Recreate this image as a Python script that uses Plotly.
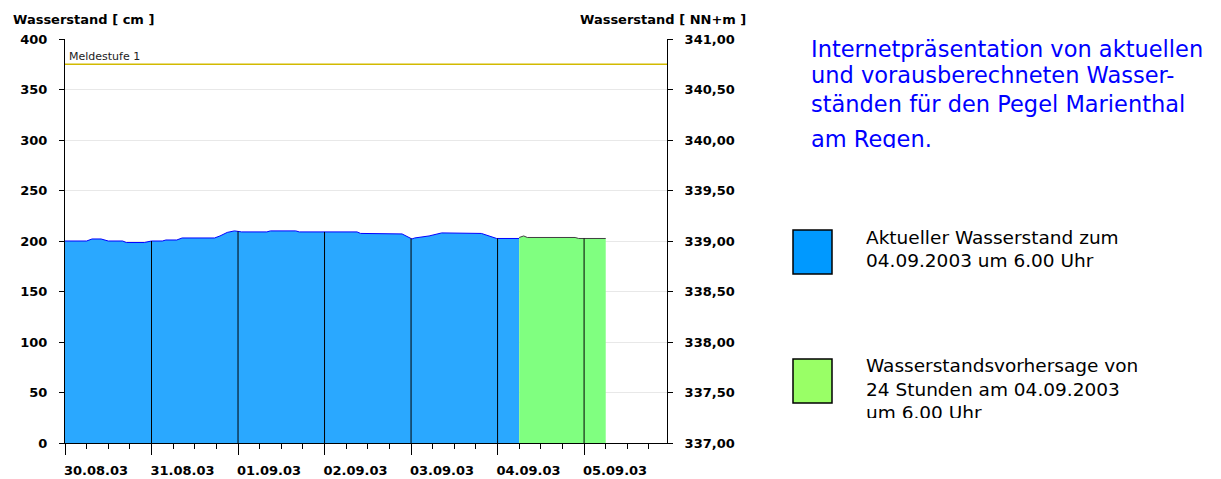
import numpy as np
import pandas as pd
import plotly.graph_objects as go

# ---------------- data ----------------
OBS_TIMES = [
    "2003-08-30 00:00", "2003-08-30 06:00", "2003-08-30 07:30", "2003-08-30 10:00",
    "2003-08-30 12:00", "2003-08-30 16:00", "2003-08-30 17:00", "2003-08-30 22:00",
    "2003-08-31 00:00", "2003-08-31 03:00", "2003-08-31 04:00", "2003-08-31 07:00",
    "2003-08-31 08:30", "2003-08-31 17:30", "2003-08-31 19:00", "2003-08-31 21:00",
    "2003-08-31 23:00", "2003-09-01 01:00", "2003-09-01 08:00", "2003-09-01 09:00",
    "2003-09-01 16:00", "2003-09-01 17:00", "2003-09-02 09:00", "2003-09-02 10:00",
    "2003-09-02 21:30", "2003-09-03 00:15", "2003-09-03 01:00", "2003-09-03 05:00",
    "2003-09-03 08:30", "2003-09-03 19:30", "2003-09-03 23:45", "2003-09-04 06:00",
]
OBS_LEVEL = [
    200, 200, 202, 202,
    200, 200, 198.5, 198.5,
    200, 200, 201, 201,
    203, 203, 205, 208.5,
    210, 209, 209, 210,
    210, 209, 209, 207.5,
    207, 202, 203, 205,
    208, 207.5, 202.5, 202.5,
]
FC_TIMES = [
    "2003-09-04 06:00", "2003-09-04 07:15", "2003-09-04 08:15",
    "2003-09-04 21:30", "2003-09-04 22:30", "2003-09-05 06:00",
]
FC_LEVEL = [203.5, 205, 203.5, 203.5, 202.5, 202.5]

MELDESTUFE = 375
MELDESTUFE_LABEL = "Meldestufe 1"
DAY_START = "2003-08-30"
DAY_END = "2003-09-05"
X_RANGE = ["2003-08-30 00:00", "2003-09-05 23:00"]
LEFT_TICKS = list(range(0, 401, 50))
RIGHT_TICKS = [337.0, 337.5, 338.0, 338.5, 339.0, 339.5, 340.0, 340.5, 341.0]
RIGHT_LABELS = ["337,00", "337,50", "338,00", "338,50", "339,00",
                "339,50", "340,00", "340,50", "341,00"]
LEFT_TITLE = "Wasserstand [ cm ]"
RIGHT_TITLE = "Wasserstand [ NN+m ]"
TITLE_LINES = ["Internetpräsentation von aktuellen",
               "und vorausberechneten Wasser-",
               "ständen für den Pegel Marienthal",
               "am Regen."]
LEGEND_OBS = ["Aktueller Wasserstand zum", "04.09.2003 um 6.00 Uhr"]
LEGEND_FC = ["Wasserstandsvorhersage von", "24 Stunden am 04.09.2003", "um 6.00 Uhr"]

# ---------------- helpers ----------------
W, H = 1221, 479
def px(x):
    return x / W
def py(y):
    return 1 - y / H

BLUE_FILL = "#2AA8FF"
GREEN_FILL = "#80FF80"
BOLD = dict(family="DejaVu Sans", size=13, color="black", weight="bold")

obs_t = pd.to_datetime(OBS_TIMES)
fc_t = pd.to_datetime(FC_TIMES)

# vertical day separators (from 0 up to water level)
days = pd.date_range("2003-08-31", DAY_END, freq="D")
obs_ms = obs_t.astype("int64").to_numpy()
fc_ms = fc_t.astype("int64").to_numpy()
vx, vy = [], []
for d in days:
    dm = d.value
    if dm <= obs_ms[-1]:
        h = np.interp(dm, obs_ms, OBS_LEVEL)
    else:
        h = np.interp(dm, fc_ms, FC_LEVEL)
    vx += [d, d, None]
    vy += [0, h, None]

fig = go.Figure()
fig.add_trace(go.Scatter(x=obs_t, y=OBS_LEVEL, mode="lines", fill="tozeroy",
                         fillcolor=BLUE_FILL, line=dict(color="#0000FF", width=1),
                         hoverinfo="skip", showlegend=False))
fig.add_trace(go.Scatter(x=fc_t, y=FC_LEVEL, mode="lines", fill="tozeroy",
                         fillcolor=GREEN_FILL, line=dict(color="#404040", width=1),
                         hoverinfo="skip", showlegend=False))
fig.add_trace(go.Scatter(x=vx, y=vy, mode="lines", line=dict(color="black", width=1),
                         hoverinfo="skip", showlegend=False, connectgaps=False))
# invisible trace to carry the NN+m axis
fig.add_trace(go.Scatter(x=obs_t, y=337 + np.array(OBS_LEVEL) / 100, yaxis="y2",
                         mode="lines", line=dict(width=0), opacity=0,
                         hoverinfo="skip", showlegend=False))

# right-hand texts (one point per line), clipped like the original text frames
def text_block(lines, x0, ys, size, color, xa, ya):
    fig.add_trace(go.Scatter(
        x=[x0] * len(lines), y=[-v for v in ys],
        mode="text", text=lines, textposition="middle right", cliponaxis=True,
        textfont=dict(family="DejaVu Sans", size=size, color=color),
        xaxis=xa, yaxis=ya, hoverinfo="skip", showlegend=False))

text_block(TITLE_LINES, 811, [51, 77.5, 106, 141], 22.5, "#0000FF", "x3", "y3")
text_block(LEGEND_OBS, 866, [239, 262], 18.5, "black", "x4", "y4")
text_block(LEGEND_FC, 866, [367, 391, 414], 18.5, "black", "x4", "y4")

# Meldestufe line
fig.add_shape(type="line", xref="x domain", x0=0, x1=1, yref="y", y0=MELDESTUFE, y1=MELDESTUFE,
              line=dict(color="#D2BA00", width=1.5), layer="above")
fig.add_annotation(xref="x domain", x=0, yref="y", y=MELDESTUFE, text=MELDESTUFE_LABEL,
                   xanchor="left", yanchor="bottom", xshift=2, yshift=-1, showarrow=False,
                   font=dict(family="DejaVu Sans", size=11, color="#222222"))

# legend squares
fig.add_shape(type="rect", xref="paper", yref="paper", x0=px(793), x1=px(832),
              y0=py(274), y1=py(230), fillcolor="#0099FF", line=dict(color="black", width=1.5))
fig.add_shape(type="rect", xref="paper", yref="paper", x0=px(793), x1=px(832),
              y0=py(403), y1=py(359), fillcolor="#99FF66", line=dict(color="black", width=1.5))

# axis titles
fig.add_annotation(xref="paper", yref="paper", x=px(11), y=py(19), text=LEFT_TITLE,
                   xanchor="left", yanchor="middle", showarrow=False, font=BOLD)
fig.add_annotation(xref="paper", yref="paper", x=px(748), y=py(19), text=RIGHT_TITLE,
                   xanchor="right", yanchor="middle", showarrow=False, font=BOLD)

fig.update_layout(
    width=W, height=H, margin=dict(l=0, r=0, t=0, b=0, autoexpand=False),
    paper_bgcolor="white", plot_bgcolor="white", showlegend=False,
    xaxis=dict(type="date", range=X_RANGE, domain=[px(65), px(667)], anchor="y",
               automargin=False,
               showline=True, linecolor="black", linewidth=1, mirror=False,
               ticks="outside", ticklen=11, tickcolor="black", tickwidth=1,
               tickmode="linear", tick0=DAY_START, dtick=86400000, tickformat="%d.%m.%y",
               ticklabelshift=31, ticklabelstandoff=4,
               showgrid=False, zeroline=False, tickfont=BOLD, fixedrange=True,
               minor=dict(dtick=6 * 3600000, tick0=DAY_START, ticks="outside", ticklen=5,
                          tickcolor="black", showgrid=False)),
    yaxis=dict(range=[0, 400], domain=[py(443), py(39)], anchor="x", automargin=False,
               showline=True, linecolor="black", linewidth=1,
               ticks="outside", ticklen=5, tickcolor="black", tickmode="array",
               tickvals=LEFT_TICKS, showgrid=True, gridcolor="#E8E8E8", zeroline=False,
               tickfont=BOLD, ticklabelstandoff=9, fixedrange=True),
    yaxis2=dict(range=[337, 341], overlaying="y", side="right", anchor="x", automargin=False,
                showline=True, linecolor="black", linewidth=1,
                ticks="outside", ticklen=5, tickcolor="black", tickmode="array",
                tickvals=RIGHT_TICKS, ticktext=RIGHT_LABELS, showgrid=False,
                zeroline=False, tickfont=BOLD, ticklabelstandoff=9, fixedrange=True),
    xaxis3=dict(domain=[px(780), 1], range=[780, 1221], anchor="y3", visible=False,
                automargin=False, fixedrange=True),
    yaxis3=dict(domain=[py(148), py(20)], range=[-148, -20], anchor="x3", visible=False,
                automargin=False, fixedrange=True),
    xaxis4=dict(domain=[px(780), 1], range=[780, 1221], anchor="y4", visible=False,
                automargin=False, fixedrange=True),
    yaxis4=dict(domain=[py(418), py(150)], range=[-418, -150], anchor="x4", visible=False,
                automargin=False, fixedrange=True),
)

fig.write_html("out.html", config={"displayModeBar": False},
               post_script="document.body.style.margin='0px';")
